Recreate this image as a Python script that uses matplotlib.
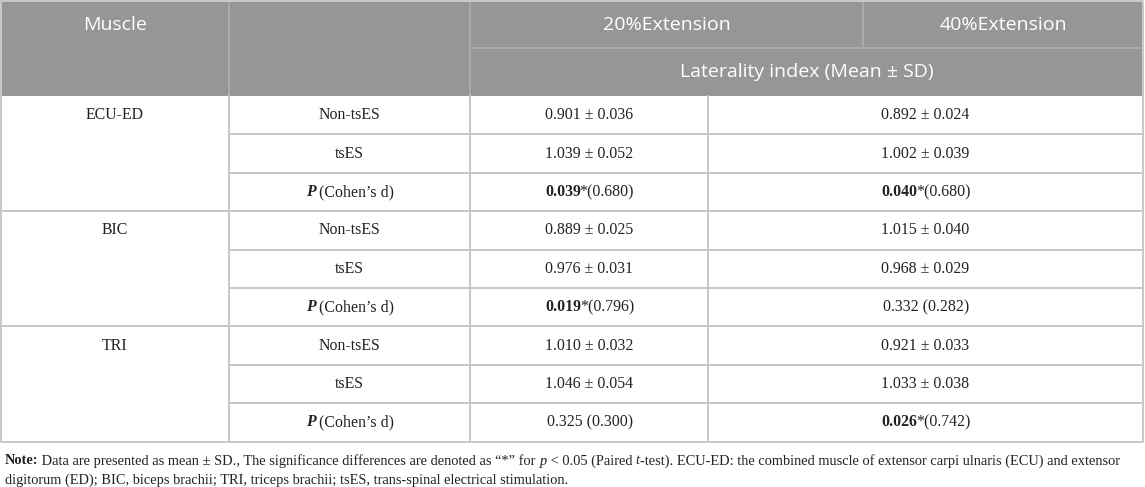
import matplotlib
matplotlib.use("Agg")
import matplotlib.pyplot as plt
from matplotlib.font_manager import FontProperties
from matplotlib.patches import Rectangle

# ---------------- data ----------------
muscles = ["ECU-ED", "BIC", "TRI"]
conditions = ["Non-tsES", "tsES"]
stat_label = "P"
stat_rest = " (Cohen\u2019s d)"
header_muscle = "Muscle"
header_20 = "20%Extension"
header_40 = "40%Extension"
header_sub = "Laterality index (Mean \u00b1 SD)"

mean20 = [[0.901, 1.039], [0.889, 0.976], [1.010, 1.046]]
sd20 = [[0.036, 0.052], [0.025, 0.031], [0.032, 0.054]]
mean40 = [[0.892, 1.002], [1.015, 0.968], [0.921, 1.033]]
sd40 = [[0.024, 0.039], [0.040, 0.029], [0.033, 0.038]]
p20 = [0.039, 0.019, 0.325]
d20 = [0.680, 0.796, 0.300]
p40 = [0.040, 0.332, 0.026]
d40 = [0.680, 0.282, 0.742]

note_runs = [
    ("Note:", "bold", "normal"),
    (" Data are presented as mean \u00b1 SD., The significance differences are denoted as \u201c*\u201d for ", "normal", "normal"),
    ("p", "normal", "italic"),
    (" < 0.05 (Paired ", "normal", "normal"),
    ("t", "normal", "italic"),
    ("-test). ECU-ED: the combined muscle of extensor carpi ulnaris (ECU) and extensor", "normal", "normal"),
]
note_line2 = "digitorum (ED); BIC, biceps brachii; TRI, triceps brachii; tsES, trans-spinal electrical stimulation."

# ---------------- layout ----------------
W, H = 1145, 487
fig = plt.figure(figsize=(W / 100, H / 100), dpi=100)
ax = fig.add_axes([0, 0, 1, 1])
ax.set_xlim(0, W)
ax.set_ylim(H, 0)
ax.axis("off")
renderer = fig.canvas.get_renderer()

x0, x1, x2, x3b, x3h, xr = 1, 229, 470, 708, 863, 1143
y_top, y_hmid, y_hbot = 0.5, 48, 96
row_h = 38.4
n_rows = 9
y_bot = y_hbot + n_rows * row_h

hdr_color = "#969696"
hdr_line = "#ababab"
grid = "#c8c8c8"
txt = "#222222"
lw = 1.4

SANS = "Open Sans"
SERIF = "Liberation Serif"
hdr_fs = 14
body_fs = 11.4

# header background
ax.add_patch(Rectangle((x0, y_top), xr - x0, y_hbot - y_top, facecolor=hdr_color, edgecolor="none", zorder=0))

# header lines
ax.plot([x1, x1], [y_top, y_hbot], color=hdr_line, lw=lw)
ax.plot([x2, x2], [y_top, y_hbot], color=hdr_line, lw=lw)
ax.plot([x3h, x3h], [y_top, y_hmid], color=hdr_line, lw=lw)
ax.plot([x2, xr], [y_hmid, y_hmid], color=hdr_line, lw=lw)

# body lines
for xv in (x1, x2, x3b):
    ax.plot([xv, xv], [y_hbot, y_bot], color=grid, lw=lw)
for i in range(1, n_rows):
    yy = y_hbot + i * row_h
    if i % 3 == 0:
        ax.plot([x0, xr], [yy, yy], color=grid, lw=lw)
    else:
        ax.plot([x1, xr], [yy, yy], color=grid, lw=lw)
# outer border
ax.plot([x0, xr, xr, x0, x0], [y_top, y_top, y_bot, y_bot, y_top], color=grid, lw=lw)


def fp(family, size, weight="normal", style="normal"):
    return FontProperties(family=family, size=size, weight=weight, style=style)


def run_width(s, prop):
    w, h, d = renderer.get_text_width_height_descent(s, prop, ismath=False)
    return w


def draw_runs(xc, y, runs, ha="center", color=txt, tighten=0.0):
    widths = [run_width(s, p) - tighten for s, p in runs]
    total = sum(widths)
    x = xc - total / 2 if ha == "center" else xc
    for (s, p), w in zip(runs, widths):
        ax.text(x, y, s, fontproperties=p, ha="left", va="center", color=color)
        x += w


# header texts
ax.text((x0 + x1) / 2, 25, header_muscle, fontproperties=fp(SANS, hdr_fs), color="white", ha="center", va="center")
ax.text((x2 + x3h) / 2, 25, header_20, fontproperties=fp(SANS, hdr_fs), color="white", ha="center", va="center")
ax.text((x3h + xr) / 2, 25, header_40, fontproperties=fp(SANS, hdr_fs), color="white", ha="center", va="center")
ax.text((x2 + xr) / 2, 72, header_sub, fontproperties=fp(SANS, hdr_fs), color="white", ha="center", va="center")

reg = fp(SERIF, body_fs)
bold = fp(SERIF, body_fs, weight="bold")
bi = fp(SERIF, body_fs, weight="bold", style="italic")


def pcell(p, d):
    if p < 0.05:
        return [(f"{p:.3f}", bold), (f"*({d:.3f})", reg)]
    return [(f"{p:.3f} ({d:.3f})", reg)]


for g, m in enumerate(muscles):
    base = y_hbot + g * 3 * row_h
    yc0 = base + row_h / 2
    ax.text((x0 + x1) / 2, yc0, m, fontproperties=reg, color=txt, ha="center", va="center")
    for r, c in enumerate(conditions):
        yc = base + (r + 0.5) * row_h
        ax.text((x1 + x2) / 2, yc, c, fontproperties=reg, color=txt, ha="center", va="center")
        ax.text((x2 + x3b) / 2, yc, f"{mean20[g][r]:.3f} \u00b1 {sd20[g][r]:.3f}", fontproperties=reg,
                color=txt, ha="center", va="center")
        ax.text((x3b + xr) / 2, yc, f"{mean40[g][r]:.3f} \u00b1 {sd40[g][r]:.3f}", fontproperties=reg,
                color=txt, ha="center", va="center")
    yc = base + 2.5 * row_h
    draw_runs((x1 + x2) / 2, yc, [(stat_label, bi), (stat_rest, reg)], tighten=0.5)
    draw_runs((x2 + x3b) / 2, yc, pcell(p20[g], d20[g]), tighten=1.5)
    draw_runs((x3b + xr) / 2, yc, pcell(p40[g], d40[g]), tighten=1.5)

# note: fit first line to the reference width
note_x, note_end = 5, 1124
test_fs = 10.0
w_test = sum(run_width(s, fp(SERIF, test_fs, weight=w, style=st)) for s, w, st in note_runs)
note_fs = test_fs * (note_end - note_x) / w_test
note_props = [(s, fp(SERIF, note_fs, weight=w, style=st)) for s, w, st in note_runs]
draw_runs(note_x, 461, note_props, ha="left")
ax.text(note_x, 480, note_line2, fontproperties=fp(SERIF, note_fs), color=txt, ha="left", va="center")

fig.savefig("out.png", dpi=100)
